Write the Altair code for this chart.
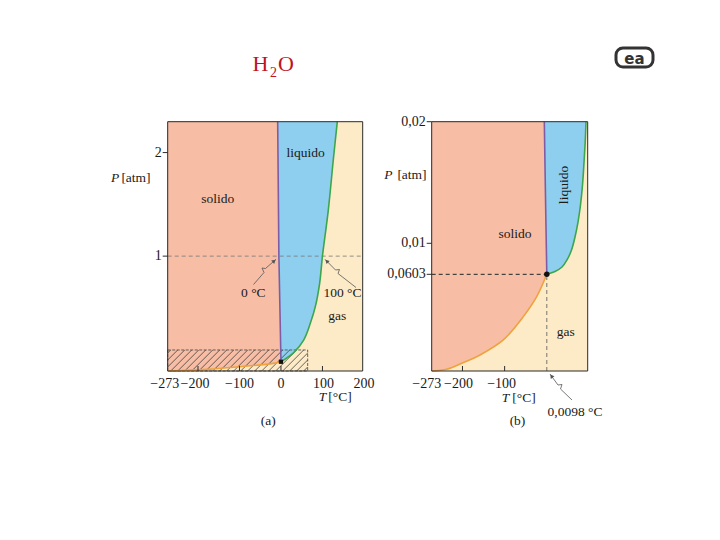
import math
import numpy as np
import pandas as pd
import altair as alt

# ---------------- data ----------------
# panel (a): P in atm, T in degC (schematic, not to scale)
A_T_DOM = [-273, 197]
A_P_DOM = [-0.109, 2.298]
a_liq_T = [0.01, 30.6, 54.7, 70.7, 82.8, 93.2, 100, 114.1, 126.1, 135.8]
a_liq_P = [-0.02, 0.068, 0.190, 0.351, 0.512, 0.738, 1.0, 1.445, 1.928, 2.298]
a_melt_T = [0.01, -5.0, -7.9]
a_melt_P = [-0.02, 1.0, 2.298]
a_sub_T = [-273, -179.0, -98.7, -18.4, 0.01]
a_sub_P = [-0.109, -0.093, -0.0675, -0.035, -0.02]
a_hatch_T = [-273, 64.4]
a_hatch_P = [-0.109, 0.094]
a_ref_P = 1.0
a_xticks = [-273, -200, -100, 0, 100, 200]
a_xlabels = ["\u2212273", "\u2212200", "\u2212100", "0", "100", "200"]
a_yticks = [1, 2]
a_ylabels = ["1", "2"]

# panel (b)
B_T_DOM = [-273, 97]
B_P_DOM = [-0.0005, 0.02]
b_triple_T, b_triple_P = 0.0098, 0.00745
b_liq_T = [0.0098, 19.4, 36.1, 47.9, 58.6, 66.9, 74.0, 79.9, 84.7, 88.2, 91.1, 93.0]
b_liq_P = [0.00745, 0.00768, 0.00805, 0.00863, 0.00945, 0.01052, 0.01175,
           0.01315, 0.01480, 0.01660, 0.01833, 0.0200]
b_melt_T = [0.0098, -2.6, -5.9]
b_melt_P = [0.00745, 0.01274, 0.0200]
b_sub_T = [-273, -237.4, -201.8, -158.4, -103.2, -55.7, -24.0, 0.0098]
b_sub_P = [-0.0005, -0.00036, 0.00013, 0.00082, 0.00206, 0.00397, 0.00561, 0.00745]
b_xticks = [-273, -200, -100]
b_xlabels = ["\u2212273", "\u2212200", "\u2212100"]
b_yticks = [0.00745, 0.01, 0.02]
b_ylabels = ["0,0603", "0,01", "0,02"]

# ---------------- style / layout ----------------
SOL = "#F7BEA5"
LIQ = "#8ECFEF"
GAS = "#FDEBC7"
PURPLE = "#7E5DA6"
GREEN = "#3DA64A"
ORANGE = "#EFA23C"
INK = "#1a1a1a"
FONT = "Liberation Serif"
CURVE = "catmull-rom"
Y_PX = [363.0, 113.7]
A_X_PX = [159.7, 354.7]
B_X_PX = [423.7, 579.7]


def panel(TD, PD, XPX, liq, melt, sub, xt, xl, xl_shift, yt, yl, extras_fn):
    xs = alt.Scale(domain=TD, range=XPX, nice=False, zero=False)
    ys = alt.Scale(domain=PD, range=Y_PX, nice=False, zero=False)

    def X(f):
        return alt.X(f + ":Q", scale=xs, axis=None, stack=None)

    def Y(f):
        return alt.Y(f + ":Q", scale=ys, axis=None, stack=None)

    layers = []
    bg = pd.DataFrame({"T": [TD[0]], "T2": [TD[1]], "P": [PD[0]], "P2": [PD[1]]})
    layers.append(alt.Chart(bg).mark_rect(fill=GAS, strokeWidth=0).encode(
        x=X("T"), x2="T2", y=Y("P"), y2="P2"))
    # liquid: from left edge up to the vaporisation curve
    dl = pd.DataFrame({"T": liq[0], "P": liq[1], "T0": TD[0]})
    layers.append(alt.Chart(dl).mark_area(orient="horizontal", color=LIQ, interpolate=CURVE).encode(
        y=Y("P"), x=X("T"), x2="T0"))
    # solid: below triple point bounded by sublimation curve, above by melting line
    dsub = pd.DataFrame({"T": sub[0], "P": sub[1], "T0": TD[0]})
    layers.append(alt.Chart(dsub).mark_area(orient="horizontal", color=SOL, interpolate=CURVE).encode(
        y=Y("P"), x=X("T"), x2="T0"))
    dmelt = pd.DataFrame({"T": melt[0], "P": melt[1], "T0": TD[0]})
    layers.append(alt.Chart(dmelt).mark_area(orient="horizontal", color=SOL).encode(
        y=Y("P"), x=X("T"), x2="T0"))

    layers += extras_fn(X, Y)

    for (T, P, col, itp) in [(sub[0], sub[1], ORANGE, CURVE), (liq[0], liq[1], GREEN, CURVE),
                             (melt[0], melt[1], PURPLE, "linear")]:
        d = pd.DataFrame({"T": T, "P": P, "i": range(len(T))})
        layers.append(alt.Chart(d).mark_line(color=col, strokeWidth=1.6, interpolate=itp).encode(
            x=X("T"), y=Y("P"), order="i:Q"))

    # frame
    layers.append(alt.Chart(bg).mark_rect(fillOpacity=0, stroke="#2b2b2b", strokeWidth=1).encode(
        x=X("T"), x2="T2", y=Y("P"), y2="P2"))
    # bottom ticks (inside)
    inner = [v for v in xt if TD[0] < v < TD[1]]
    layers.append(alt.Chart(pd.DataFrame({"T": inner})).mark_rule(color="#2b2b2b", strokeWidth=1).encode(
        x=X("T"), y=alt.value(Y_PX[0]), y2=alt.value(Y_PX[0] - 5)))
    pxT = (XPX[1] - XPX[0]) / (TD[1] - TD[0])
    dxl = pd.DataFrame({"T": [v + s / pxT for v, s in zip(xt, xl_shift)], "lab": xl})
    layers.append(alt.Chart(dxl).mark_text(font=FONT, fontSize=14, color=INK, baseline="middle").encode(
        x=X("T"), y=alt.value(Y_PX[0] + 12.5), text="lab:N"))
    # left ticks + labels
    dyl = pd.DataFrame({"P": yt, "lab": yl})
    layers.append(alt.Chart(dyl).mark_rule(color="#2b2b2b", strokeWidth=1).encode(
        y=Y("P"), x=alt.value(XPX[0] - 5), x2=alt.value(XPX[0])))
    layers.append(alt.Chart(dyl).mark_text(font=FONT, fontSize=14, color=INK, baseline="middle",
                                           align="right", dx=-6).encode(
        y=Y("P"), x=alt.value(XPX[0]), text="lab:N"))
    return alt.layer(*layers)


def extras_a(X, Y):
    out = []
    # hatched box near the origin
    pxT = (A_X_PX[1] - A_X_PX[0]) / (A_T_DOM[1] - A_T_DOM[0])
    pxP = (Y_PX[0] - Y_PX[1]) / (A_P_DOM[1] - A_P_DOM[0])
    W = (a_hatch_T[1] - a_hatch_T[0]) * pxT
    H = (a_hatch_P[1] - a_hatch_P[0]) * pxP
    segs = []
    for k in np.arange(-H + 3, W, 7.0):
        v0, v1 = max(0.0, -k), min(H, W - k)
        if v1 > v0:
            segs.append({"T": a_hatch_T[0] + (v0 + k) / pxT, "P": a_hatch_P[0] + v0 / pxP,
                         "T2": a_hatch_T[0] + (v1 + k) / pxT, "P2": a_hatch_P[0] + v1 / pxP})
    out.append(alt.Chart(pd.DataFrame(segs)).mark_rule(color="#333", strokeWidth=0.75).encode(
        x=X("T"), y=Y("P"), x2="T2", y2="P2"))
    box = pd.DataFrame({"T": [a_hatch_T[0]], "T2": [a_hatch_T[1]], "P": [a_hatch_P[0]], "P2": [a_hatch_P[1]]})
    out.append(alt.Chart(box).mark_rect(fillOpacity=0, stroke="#444", strokeWidth=0.8,
                                        strokeDash=[3, 1.5]).encode(
        x=X("T"), x2="T2", y=Y("P"), y2="P2"))
    ref = pd.DataFrame({"T": [A_T_DOM[0]], "T2": [A_T_DOM[1]], "P": [a_ref_P]})
    out.append(alt.Chart(ref).mark_rule(color="#777", strokeWidth=0.8, strokeDash=[4, 3]).encode(
        x=X("T"), x2="T2", y=Y("P")))
    return out


def extras_b(X, Y):
    out = []
    h = pd.DataFrame({"T": [B_T_DOM[0]], "T2": [b_triple_T], "P": [b_triple_P]})
    out.append(alt.Chart(h).mark_rule(color="#222", strokeWidth=1, strokeDash=[4, 3]).encode(
        x=X("T"), x2="T2", y=Y("P")))
    v = pd.DataFrame({"T": [b_triple_T], "P": [B_P_DOM[0]], "P2": [b_triple_P]})
    out.append(alt.Chart(v).mark_rule(color="#555", strokeWidth=0.8, strokeDash=[4, 3]).encode(
        x=X("T"), y=Y("P"), y2="P2"))
    return out


panel_a = panel(A_T_DOM, A_P_DOM, A_X_PX, (a_liq_T, a_liq_P), (a_melt_T, a_melt_P),
                (a_sub_T, a_sub_P), a_xticks, a_xlabels, [-3, -3, 0, 0, 1, 0],
                a_yticks, a_ylabels, extras_a)
# triple-point markers
xa = alt.Scale(domain=A_T_DOM, range=A_X_PX, nice=False, zero=False)
ya = alt.Scale(domain=A_P_DOM, range=Y_PX, nice=False, zero=False)
dot_a = alt.Chart(pd.DataFrame({"T": [a_liq_T[0]], "P": [a_liq_P[0]]})).mark_point(
    shape="square", filled=True, color="#111", size=18, opacity=1).encode(
    x=alt.X("T:Q", scale=xa, axis=None), y=alt.Y("P:Q", scale=ya, axis=None))
panel_a = alt.layer(panel_a, dot_a)

panel_b = panel(B_T_DOM, B_P_DOM, B_X_PX, (b_liq_T, b_liq_P), (b_melt_T, b_melt_P),
                (b_sub_T, b_sub_P), b_xticks, b_xlabels, [-5, -4, -3],
                b_yticks, b_ylabels, extras_b)
xb = alt.Scale(domain=B_T_DOM, range=B_X_PX, nice=False, zero=False)
yb = alt.Scale(domain=B_P_DOM, range=Y_PX, nice=False, zero=False)
dot_b = alt.Chart(pd.DataFrame({"T": [b_triple_T], "P": [b_triple_P]})).mark_point(
    shape="circle", filled=True, color="#111", size=30, opacity=1).encode(
    x=alt.X("T:Q", scale=xb, axis=None), y=alt.Y("P:Q", scale=yb, axis=None))
panel_b = alt.layer(panel_b, dot_b)

# ---------------- annotations in page pixels ----------------
M = 8.0


def P(x, y):
    return (x - M, y - M)


def PX(f):
    return alt.X(f + ":Q", scale=None, axis=None)


def PY(f):
    return alt.Y(f + ":Q", scale=None, axis=None)


arrows = [
    [(276, 259.3), (265.5, 268.5), (262, 268), (264, 272.5), (253.5, 284.5)],
    [(325, 259.3), (335.5, 270), (339.5, 269.5), (338, 273.5), (356, 287.5)],
    [(550, 374), (558, 385), (562, 384.5), (560.5, 389), (572, 400)],
]
arow, hrow = [], []
for aid, pts in enumerate(arrows):
    for i, (x, y) in enumerate(pts):
        px, py = P(x, y)
        arow.append({"id": aid, "i": i, "x": px, "y": py})
    (tx, ty), (bx, by) = pts[0], pts[1]
    dx, dy = tx - bx, ty - by
    ln = math.hypot(dx, dy)
    ang = math.degrees(math.atan2(dx, -dy)) % 360
    cx, cy = P(tx - dx / ln * 2.5, ty - dy / ln * 2.5)
    hrow.append({"x": cx, "y": cy, "a": ang})

arrow_lines = alt.Chart(pd.DataFrame(arow)).mark_line(color="#555", strokeWidth=0.8).encode(
    x=PX("x"), y=PY("y"), detail="id:N", order="i:Q")
arrow_heads = alt.Chart(pd.DataFrame(hrow)).mark_point(
    shape="triangle-up", filled=True, color="#555", size=20, opacity=1).encode(
    x=PX("x"), y=PY("y"), angle=alt.Angle("a:Q", scale=None))

normal_txt = [
    ("solido", 217.7, 199.3), ("liquido", 305.7, 153.3), ("gas", 337.3, 315.7),
    ("0 \u00b0C", 253.3, 293.3), ("100 \u00b0C", 342.5, 293.3), ("(a)", 268.3, 420.5),
    ("[atm]", 136.0, 178.0), ("[\u00b0C]", 340.0, 397.0),
    ("solido", 515.0, 234.0), ("gas", 565.7, 331.7), ("(b)", 517.5, 420.5),
    ("[atm]", 412.0, 175.0), ("[\u00b0C]", 524.0, 398.0), ("0,0098 \u00b0C", 575.0, 411.5),
]
italic_txt = [("P", 115.0, 178.0), ("T", 322.5, 397.0), ("P", 388.3, 175.0), ("T", 505.5, 398.0)]


def txt_df(rows):
    return pd.DataFrame([{"t": t, "x": P(x, y)[0], "y": P(x, y)[1]} for t, x, y in rows])


t_norm = alt.Chart(txt_df(normal_txt)).mark_text(
    font=FONT, fontSize=13.5, color=INK, baseline="middle").encode(x=PX("x"), y=PY("y"), text="t:N")
t_ital = alt.Chart(txt_df(italic_txt)).mark_text(
    font=FONT, fontSize=13.5, color=INK, baseline="middle", fontStyle="italic").encode(
    x=PX("x"), y=PY("y"), text="t:N")
t_rot = alt.Chart(txt_df([("liquido", 564.0, 185.0)])).mark_text(
    font=FONT, fontSize=13.5, color=INK, baseline="middle", angle=270).encode(
    x=PX("x"), y=PY("y"), text="t:N")

title_big = alt.Chart(txt_df([("H", 260.5, 70.5), ("O", 286.0, 70.5)])).mark_text(
    font=FONT, fontSize=22, color="#C0141C", baseline="alphabetic").encode(
    x=PX("x"), y=PY("y"), text="t:N")
title_sub = alt.Chart(txt_df([("2", 273.5, 77.0)])).mark_text(
    font=FONT, fontSize=14, color="#C0141C", baseline="alphabetic").encode(
    x=PX("x"), y=PY("y"), text="t:N")

lx0, ly0 = P(616, 48)
lx1, ly1 = P(653, 67)
logo_box = alt.Chart(pd.DataFrame({"x": [lx0], "x2": [lx1], "y": [ly0], "y2": [ly1]})).mark_rect(
    fillOpacity=0, stroke="#333", strokeWidth=3, cornerRadius=7).encode(
    x=PX("x"), x2="x2", y=PY("y"), y2="y2")
logo_txt = alt.Chart(txt_df([("ea", 634.5, 58.5)])).mark_text(
    font="DejaVu Sans", fontWeight="bold", fontSize=15, color="#333", baseline="middle").encode(
    x=PX("x"), y=PY("y"), text="t:N")

annot = alt.layer(arrow_lines, arrow_heads, t_norm, t_ital, t_rot, title_big, title_sub,
                  logo_box, logo_txt)

chart = alt.layer(panel_a, panel_b, annot).resolve_scale(
    x="independent", y="independent"
).properties(
    width=704, height=524, padding=0, autosize="none", background="white"
).configure_view(stroke=None)

chart.save("out.html", embed_options={"renderer": "svg", "actions": False})
